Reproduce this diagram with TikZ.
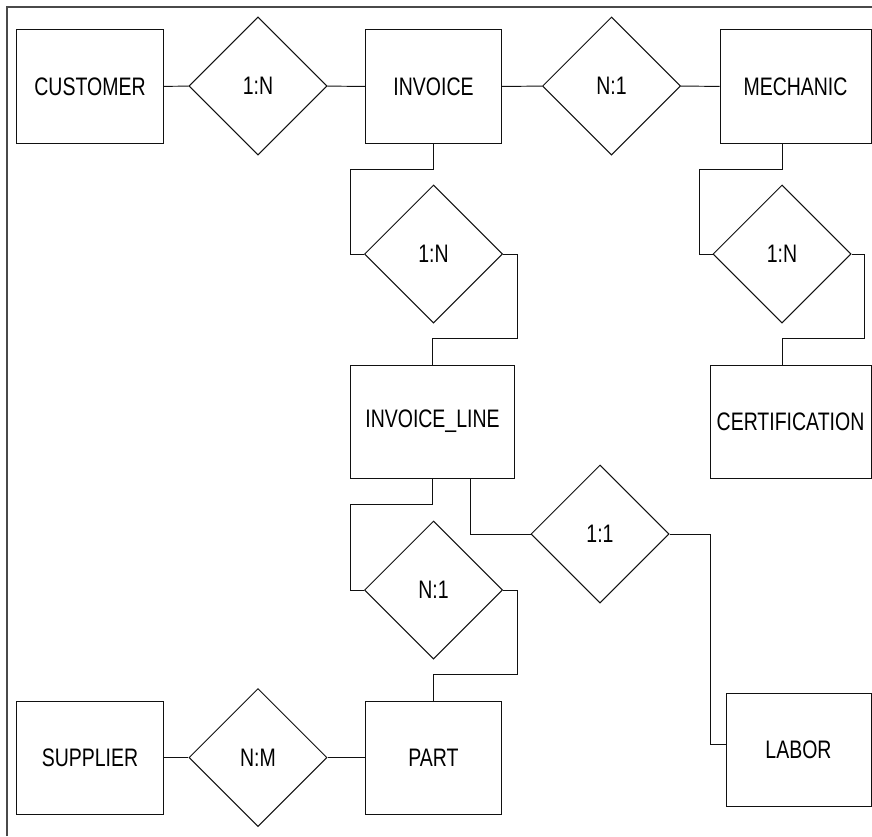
\documentclass[tikz,border=0pt]{standalone}
\usepackage{fontspec}
\setmainfont{Liberation Sans}[FakeStretch=0.77]
\usepackage{xcolor}
\usetikzlibrary{positioning,shapes.geometric,calc}
\definecolor{ink}{HTML}{111111}
\definecolor{framegray}{HTML}{4A4A4A}
\tikzset{
  entity/.style={draw=ink,fill=white,line width=0.7pt,rectangle,
                 minimum height=2.825cm,inner sep=2pt,
                 font=\fontsize{18}{21}\selectfont},
  relship/.style={draw=ink,fill=white,line width=0.7pt,diamond,aspect=1,
                  minimum width=3.45cm,minimum height=3.45cm,inner sep=0pt,
                  font=\fontsize{18}{21}\selectfont},
  link/.style={draw=ink,line width=0.7pt},
  frameline/.style={draw=framegray,line width=1.1pt}
}
\begin{document}
\begin{tikzpicture}[x=0.025cm,y=-0.025cm]
    \path[use as bounding box] (0,0) rectangle (872,836);
    \draw[frameline] (7,836) -- (7,7) -- (872,7);

    % entities
    \node[entity,minimum width=3.65cm]  (customer) at (90,86.5)    {CUSTOMER};
    \node[entity,minimum width=3.375cm] (invoice)  at (433.5,86.5) {INVOICE};
    \node[entity,minimum width=3.775cm] (mechanic) at (795.5,86.5) {MECHANIC};
    \node[entity,minimum width=4.075cm] (invline)  at (432.5,421.5) {INVOICE\_LINE};
    \node[entity,minimum width=4.025cm] (cert)     at (790.5,421.5) {CERTIFICATION};
    \node[entity,minimum width=3.65cm]  (supplier) at (90,757.5)   {SUPPLIER};
    \node[entity,minimum width=3.375cm] (part)     at (433.5,757.5) {PART};
    \node[entity,minimum width=3.625cm] (labor)    at (798.5,749.5) {LABOR};

    % relationships
    \node[relship] (custinv) at (258,86)    {1:N};
    \node[relship] (invmech) at (611.5,86)  {N:1};
    \node[relship] (invlines) at (433.5,254) {1:N};
    \node[relship] (mechcert) at (782,254)  {1:N};
    \node[relship] (linepart) at (433.5,590) {N:1};
    \node[relship] (linelab) at (600,534)   {1:1};
    \node[relship] (supppart) at (258,757.5) {N:M};

    % straight links
    \draw[link] (customer) -- (custinv);
    \draw[link] (custinv) -- (invoice);
    \draw[link] (invoice) -- (invmech);
    \draw[link] (invmech) -- (mechanic);
    \draw[link] (supplier) -- (supppart);
    \draw[link] (supppart) -- (part);

    % bent links
    \draw[link] (invoice.south) -- ++(0,26)
      -| ($(invlines.west)+(-14,0)$) -- (invlines.west);
    \draw[link] (invlines.east) -- ++(14,0)
      |- ($(invline.north)+(0,-26)$) -- (invline.north);
    \draw[link] (mechcert.north |- mechanic.south) -- ++(0,26)
      -| ($(mechcert.west)+(-13,0)$) -- (mechcert.west);
    \draw[link] (mechcert.east) -- ++(13,0)
      |- ($(mechcert.south |- cert.north)+(0,-26)$)
      -- (mechcert.south |- cert.north);
    \draw[link] (invline.south) -- ++(0,26)
      -| ($(linepart.west)+(-14,0)$) -- (linepart.west);
    \draw[link] (linepart.east) -- ++(14,0)
      |- ($(part.north)+(0,-26)$) -- (part.north);
    \draw[link] ($(invline.south east)+(-44,0)$) |- (linelab.west);
    \draw[link] (linelab.east) -| ($(labor.west)+(-15,-5)$)
      -- ($(labor.west)+(0,-5)$);
\end{tikzpicture}
\end{document}
